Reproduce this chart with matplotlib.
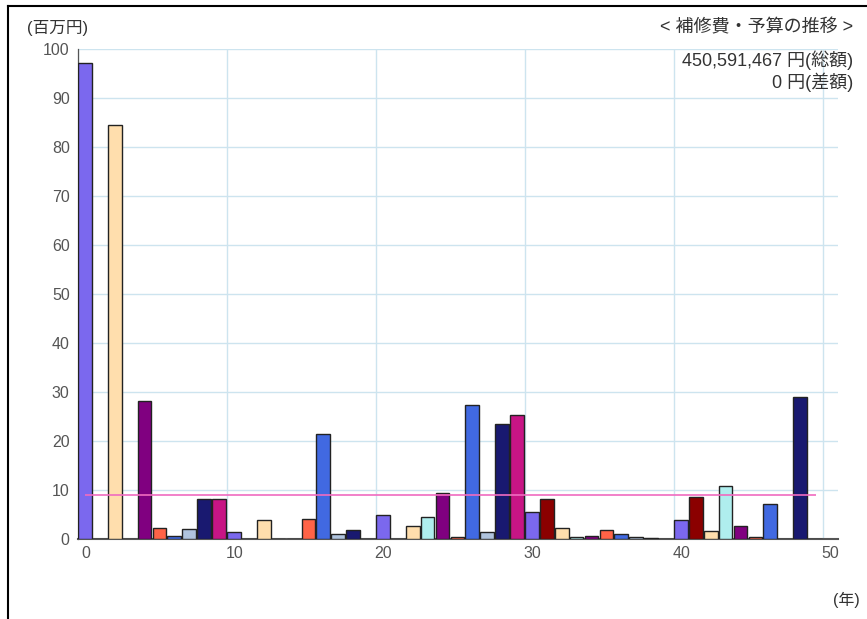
import matplotlib
matplotlib.use('Agg')
import matplotlib.pyplot as plt
from matplotlib.lines import Line2D

plt.rcParams['font.family'] = ['Liberation Sans', 'Noto Sans CJK JP', 'DejaVu Sans']

# Yearly repair cost (million yen), years 0..49
years = list(range(50))
costs = [97.1, 0.0, 84.5, 0.0, 28.1, 2.2, 0.6, 2.0, 8.1, 8.1,
         1.45, 0.0, 3.9, 0.0, 0.0, 4.0, 21.4, 1.1, 1.8, 0.0,
         4.9, 0.0, 2.75, 4.4, 9.3, 0.5, 27.4, 1.4, 23.5, 25.3,
         5.5, 8.1, 2.3, 0.4, 0.55, 1.8, 1.1, 0.5, 0.2, 0.0,
         3.8, 8.5, 1.6, 10.9, 2.7, 0.5, 7.1, 0.1, 28.9, 0.0]
palette = ['#7b68ee', '#8b0000', '#ffdead', '#afeeee', '#800080',
           '#ff6347', '#4169e1', '#b0c4de', '#191970', '#c71585']
budget = 9.0
x_ticks = [0, 10, 20, 30, 40, 50]
y_ticks = [0, 10, 20, 30, 40, 50, 60, 70, 80, 90, 100]

W, H = 867, 619
fig = plt.figure(figsize=(W / 100, H / 100), dpi=100)
ax = fig.add_axes([78 / W, 1 - 539 / H, (838 - 78) / W, (539 - 49) / H])

colors = [palette[i % len(palette)] for i in years]
ax.bar(years, costs, width=0.92, align='edge', color=colors,
       edgecolor='#222222', linewidth=1.0, zorder=3)

# budget (average) line between category centres
ax.hlines(budget, 0.5, 49.5, color='#f06bc0', linewidth=1.2, zorder=4)

ax.set_xlim(0, 51)
ax.set_ylim(0, 100)

# gridlines on major ticks, labels centred in the category on minor ticks
ax.set_xticks(x_ticks)
ax.set_xticklabels([])
ax.set_xticks([t + 0.5 for t in x_ticks], minor=True)
ax.set_xticklabels([str(t) for t in x_ticks], minor=True)
ax.tick_params(axis='x', which='both', length=0, pad=5, labelsize=11.5, labelcolor='#555555')
ax.set_yticks(y_ticks)
ax.tick_params(axis='y', length=0, pad=6, labelsize=11.5, labelcolor='#555555')

ax.grid(True, which='major', color='#cde4ef', linewidth=1.0, zorder=0)
ax.set_axisbelow(True)

for s in ['top', 'right']:
    ax.spines[s].set_visible(False)
ax.spines['left'].set_color('#555555')
ax.spines['left'].set_linewidth(0.9)
ax.spines['bottom'].set_color('#555555')
ax.spines['bottom'].set_linewidth(1.5)

# texts
fig.text(27 / W, 1 - 28 / H, '(百万円)', ha='left', va='center', fontsize=12, color='#333333')
fig.text(853 / W, 1 - 28 / H, '< 補修費・予算の推移 >', ha='right', va='center', fontsize=13, color='#333333')
fig.text(853 / W, 1 - 60 / H, '450,591,467 円(総額)', ha='right', va='center', fontsize=13, color='#333333')
fig.text(853 / W, 1 - 82 / H, '0 円(差額)', ha='right', va='center', fontsize=13, color='#333333')
fig.text(846 / W, 1 - 600 / H, '(年)', ha='center', va='center', fontsize=11.5, color='#333333')

# outer frame (only top and left edges visible)
fig.add_artist(Line2D([8 / W, 8 / W], [0, 1 - 6 / H], color='black', linewidth=1.5))
fig.add_artist(Line2D([8 / W, 1], [1 - 6 / H, 1 - 6 / H], color='black', linewidth=1.5))

fig.savefig('out.png', dpi=100, facecolor='white')
